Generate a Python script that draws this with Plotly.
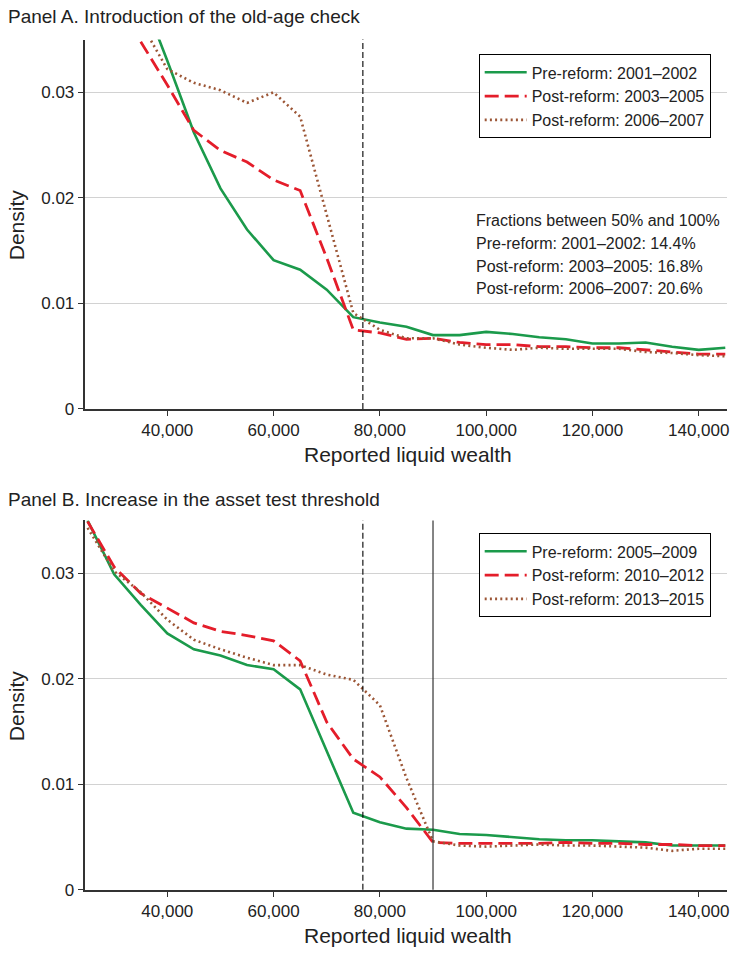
import plotly.graph_objects as go

# ---------------- data ----------------
x_a = [35000, 40000, 45000, 50000, 55000, 60000, 65000, 70000, 75000, 80000,
       85000, 90000, 95000, 100000, 105000, 110000, 115000, 120000, 125000,
       130000, 135000, 140000, 145000]
a_pre_0102 = [0.0395, 0.0330, 0.0262, 0.0209, 0.0170, 0.0141, 0.0132, 0.0113, 0.0087, 0.0082,
              0.0078, 0.0070, 0.0070, 0.0073, 0.0071, 0.0068, 0.0066, 0.0062, 0.0062,
              0.0063, 0.0059, 0.0056, 0.0058]
a_post_0305 = [0.0348, 0.0307, 0.0264, 0.0245, 0.0234, 0.0217, 0.0207, 0.0143, 0.0075, 0.0072,
               0.0066, 0.0067, 0.0063, 0.0061, 0.0061, 0.0059, 0.0059, 0.0058, 0.0058,
               0.0056, 0.0054, 0.0052, 0.0052]
a_post_0607 = [0.0366, 0.0322, 0.0309, 0.0302, 0.0290, 0.0300, 0.0277, 0.0185, 0.0091, 0.0075,
               0.0067, 0.0067, 0.0061, 0.0058, 0.0056, 0.0058, 0.0057, 0.0057, 0.0057,
               0.0054, 0.0053, 0.0051, 0.0050]

x_b = [25000, 30000, 35000, 40000, 45000, 50000, 55000, 60000, 65000, 70000, 75000,
       80000, 85000, 90000, 95000, 100000, 105000, 110000, 115000, 120000, 125000,
       130000, 135000, 140000, 145000]
b_pre_0509 = [0.0350, 0.0299, 0.0270, 0.0243, 0.0228, 0.0222, 0.0213, 0.0209, 0.0190, 0.0131, 0.0073,
              0.0064, 0.0058, 0.0057, 0.0053, 0.0052, 0.0050, 0.0048, 0.0047, 0.0047, 0.0046,
              0.0045, 0.0042, 0.0042, 0.0042]
b_post_1012 = [0.0349, 0.0306, 0.0281, 0.0267, 0.0253, 0.0245, 0.0241, 0.0236, 0.0217, 0.0159, 0.0124,
               0.0107, 0.0078, 0.0045, 0.0044, 0.0044, 0.0044, 0.0044, 0.0045, 0.0044, 0.0044,
               0.0043, 0.0043, 0.0042, 0.0042]
b_post_1315 = [0.0343, 0.0302, 0.0282, 0.0256, 0.0237, 0.0228, 0.0220, 0.0213, 0.0213, 0.0204, 0.0199,
               0.0175, 0.0106, 0.0046, 0.0042, 0.0041, 0.0042, 0.0043, 0.0042, 0.0042, 0.0041,
               0.0040, 0.0037, 0.0039, 0.0039]

names_a = ["Pre-reform: 2001\u20132002", "Post-reform: 2003\u20132005", "Post-reform: 2006\u20132007"]
names_b = ["Pre-reform: 2005\u20132009", "Post-reform: 2010\u20132012", "Post-reform: 2013\u20132015"]
fraction_lines = ["Fractions between 50% and 100%",
                  "Pre-reform: 2001\u20132002: 14.4%",
                  "Post-reform: 2003\u20132005: 16.8%",
                  "Post-reform: 2006\u20132007: 20.6%"]
threshold_dashed = 76800
threshold_solid_b = 90000

x_tickvals = [40000, 60000, 80000, 100000, 120000, 140000]
x_ticktext = ["40,000", "60,000", "80,000", "100,000", "120,000", "140,000"]
y_tickvals = [0, 0.01, 0.02, 0.03]
y_ticktext = ["0", "0.01", "0.02", "0.03"]

# ---------------- style ----------------
W, H = 734, 954
FONT = "Liberation Sans, Arial, sans-serif"
TXT = "#222222"
GREEN = "#1b9a4b"
RED = "#e41d2a"
BROWN = "#9c5636"
AX = "#333333"

def py(p):  # pixel y (from top) -> paper
    return 1 - p / H

def px(p):
    return p / W

fig = go.Figure()

styles = [dict(color=GREEN, width=2.6, dash="solid"),
          dict(color=RED, width=2.8, dash="14px,6px"),
          dict(color=BROWN, width=2.6, dash="2px,3.2px")]

for i, (ys, nm) in enumerate(zip([a_pre_0102, a_post_0305, a_post_0607], names_a)):
    fig.add_trace(go.Scatter(x=x_a, y=ys, mode="lines", name=nm, line=styles[i],
                             xaxis="x", yaxis="y", legend="legend"))
for i, (ys, nm) in enumerate(zip([b_pre_0509, b_post_1012, b_post_1315], names_b)):
    fig.add_trace(go.Scatter(x=x_b, y=ys, mode="lines", name=nm, line=styles[i],
                             xaxis="x2", yaxis="y2", legend="legend2"))

xdom = [px(85.7), px(729.4)]
xrange = [24600, 145400]
common_x = dict(range=xrange, tickvals=x_tickvals, ticktext=x_ticktext, showgrid=False,
                showline=True, linecolor=AX, linewidth=1.5, ticks="outside", ticklen=5,
                tickwidth=1.2, tickcolor=AX, zeroline=False,
                tickfont=dict(family=FONT, size=17, color=TXT), fixedrange=True)
common_y = dict(range=[0, 0.035], tickvals=y_tickvals, ticktext=y_ticktext, showgrid=True,
                gridcolor="#d2d2d2", gridwidth=1.3, showline=True, linecolor=AX,
                linewidth=1.5, ticks="outside", ticklen=6, tickwidth=1.2, tickcolor=AX,
                zeroline=False, tickfont=dict(family=FONT, size=17, color=TXT), fixedrange=True)

fig.update_layout(
    width=W, height=H,
    margin=dict(l=0, r=0, t=0, b=0),
    paper_bgcolor="white", plot_bgcolor="white",
    font=dict(family=FONT, color=TXT),
    xaxis=dict(domain=xdom, anchor="y", **common_x),
    yaxis=dict(domain=[py(413.3), py(40)], anchor="x", **common_y),
    xaxis2=dict(domain=xdom, anchor="y2", **common_x),
    yaxis2=dict(domain=[py(899.3), py(526)], anchor="x2", **common_y),
    legend=dict(x=px(480), y=py(55), xanchor="left", yanchor="top",
                bordercolor="black", borderwidth=1, bgcolor="white",
                font=dict(family=FONT, size=16, color=TXT), itemwidth=42,
                traceorder="normal"),
    legend2=dict(x=px(480), y=py(539), xanchor="left", yanchor="top",
                 bordercolor="black", borderwidth=1, bgcolor="white",
                 font=dict(family=FONT, size=16, color=TXT), itemwidth=42,
                 traceorder="normal"),
    showlegend=True,
)

# reference lines
for xref, yref in [("x", "y"), ("x2", "y2")]:
    fig.add_shape(type="line", xref=xref, yref=yref + " domain", x0=threshold_dashed,
                  x1=threshold_dashed, y0=0, y1=1,
                  line=dict(color="black", width=1.1, dash="6px,3px"))
fig.add_shape(type="line", xref="x2", yref="y2 domain", x0=threshold_solid_b,
              x1=threshold_solid_b, y0=0, y1=1, line=dict(color="#333333", width=1.2))

ann = []
# panel titles
ann.append(dict(text="Panel A. Introduction of the old-age check", x=px(6), y=py(17),
                xanchor="left", yanchor="middle", font=dict(size=19)))
ann.append(dict(text="Panel B. Increase in the asset test threshold", x=px(6), y=py(505),
                xanchor="left", yanchor="middle", font=dict(size=19)))
# axis titles
for yc in [459, 945]:
    ann.append(dict(text="Reported liquid wealth", x=px(409), y=py(yc),
                    xanchor="center", yanchor="middle", font=dict(size=21)))
for yc in [226.7, 712.7]:
    ann.append(dict(text="Density", x=px(16), y=py(yc), textangle=-90,
                    xanchor="center", yanchor="middle", font=dict(size=21)))
# fractions text
for i, (t, yc) in enumerate(zip(fraction_lines, [222.5, 245.8, 269, 292])):
    ann.append(dict(text=t, x=px(475), y=py(yc), xanchor="left", yanchor="middle",
                    font=dict(size=16)))
for a in ann:
    a.update(xref="paper", yref="paper", showarrow=False)
    a["font"].update(family=FONT, color=TXT)
fig.update_layout(annotations=ann)

fig.write_html("out.html", config={"displayModeBar": False},
               post_script="document.body.style.margin='0';document.body.style.overflow='hidden';")
